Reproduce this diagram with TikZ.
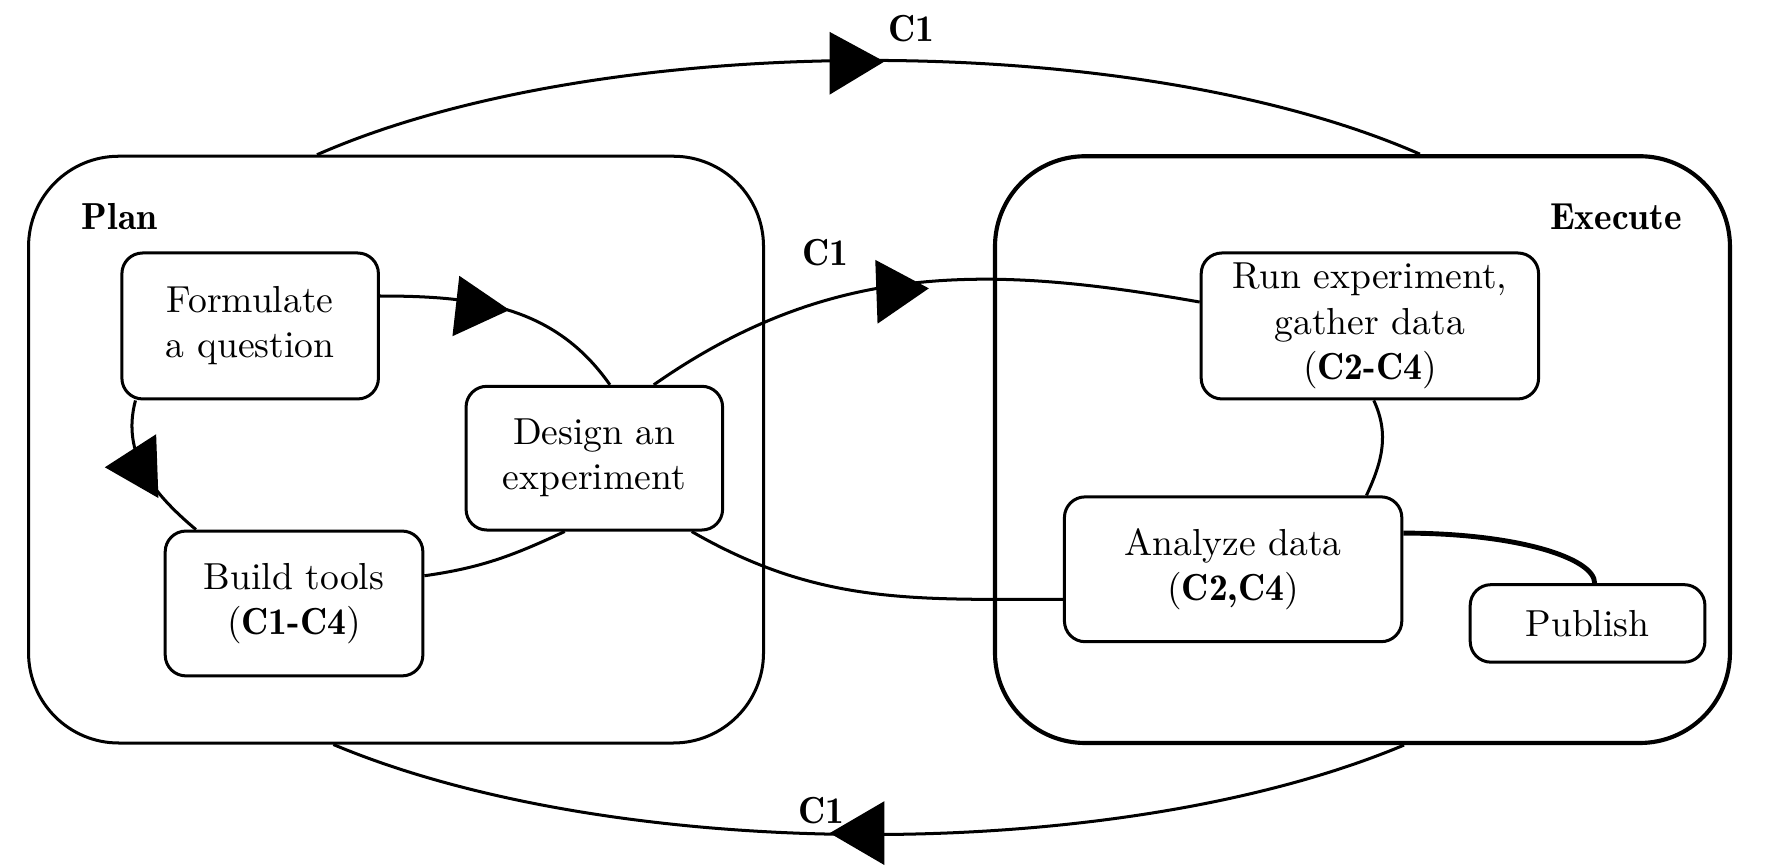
\documentclass[tikz,border=0pt]{standalone}
\usepackage{fontspec}
\usetikzlibrary{calc}
\newfontfamily\demifont{lmromandemi10-regular}[Extension=.otf]
\newcommand{\dm}[1]{{\demifont #1}}
\begin{document}
\begin{tikzpicture}[x=0.303pt,y=0.303pt,
  box/.style={draw,line width=0.8pt,rounded corners=5.5pt,align=center,inner sep=0pt},
  cont/.style={draw,line width=0.8pt,rounded corners=24pt,inner sep=0pt,minimum width=195.4pt,minimum height=156pt},
  link/.style={line width=0.8pt},
  bigtip/.style={fill=black},
  lbl/.style={inner sep=0pt}]
\useasboundingbox (0,0) rectangle (1568,-761);
\node[cont] (plan) at (347.5,-394.5) {};
\node[cont,line width=1.1pt] (exec) at (1195.5,-394.5) {};
\node[lbl] (planlbl) at (105,-190) {\dm{Plan}};
\node[lbl] (execlbl) at (1418,-190) {\dm{Execute}};
\node[box,minimum width=68.2pt,minimum height=38.8pt] (form) at (219.5,-286) {Formulate\\a question};
\node[box,minimum width=68.2pt,minimum height=38.2pt] (design) at (521.5,-402) {Design an\\experiment};
\node[box,minimum width=68.5pt,minimum height=38.5pt] (build) at (258,-529.5) {Build tools\\(\dm{C1-C4})};
\node[box,minimum width=89.7pt,minimum height=38.8pt] (run) at (1202,-286) {Run experiment,\\gather data\\(\dm{C2-C4})};
\node[box,minimum width=89.7pt,minimum height=38.5pt] (analyze) at (1082,-499.5) {Analyze data\\(\dm{C2,C4})};
\node[box,minimum width=62.4pt,minimum height=20.6pt] (publish) at (1393,-547) {Publish};
\draw[link] (form.13) to[out=0,in=125] (design.78);
\draw[link] (form.213) to[out=255,in=140] (build.143);
\draw[link] (design.-112) to[out=205,in=8] (build.12);
\draw[link] (design.51) to[out=35,in=170] (run.172);
\draw[link] (design.-37) to[out=-30,in=180] (analyze.190);
\draw[link] (run.-87) to[out=-65,in=65] (analyze.29);
\draw[link,line width=1.3pt] (analyze.12) .. controls +(100,0) and +(0,22) .. (publish.80);
\draw[link] (plan.105) .. controls +(250,110) and +(-250,110) .. (exec.79);
\draw[link] (plan.-102) .. controls +(250,-105) and +(-250,-105) .. (exec.-82);
\fill[bigtip] (728,-28) -- (776,-54) -- (728,-83) -- cycle;
\fill[bigtip] (776,-703) -- (728,-731) -- (776,-759) -- cycle;
\fill[bigtip] (768,-228) -- (815,-253) -- (770,-284) -- cycle;
\fill[bigtip] (403,-242) -- (447,-272) -- (397,-295) -- cycle;
\fill[bigtip] (92,-410) -- (137,-381) -- (139,-437) -- cycle;
\node[lbl] (c1top) at (800,-25) {\dm{C1}};
\node[lbl] (c1mid) at (724,-222) {\dm{C1}};
\node[lbl] (c1bot) at (721,-711) {\dm{C1}};
\end{tikzpicture}
\end{document}
